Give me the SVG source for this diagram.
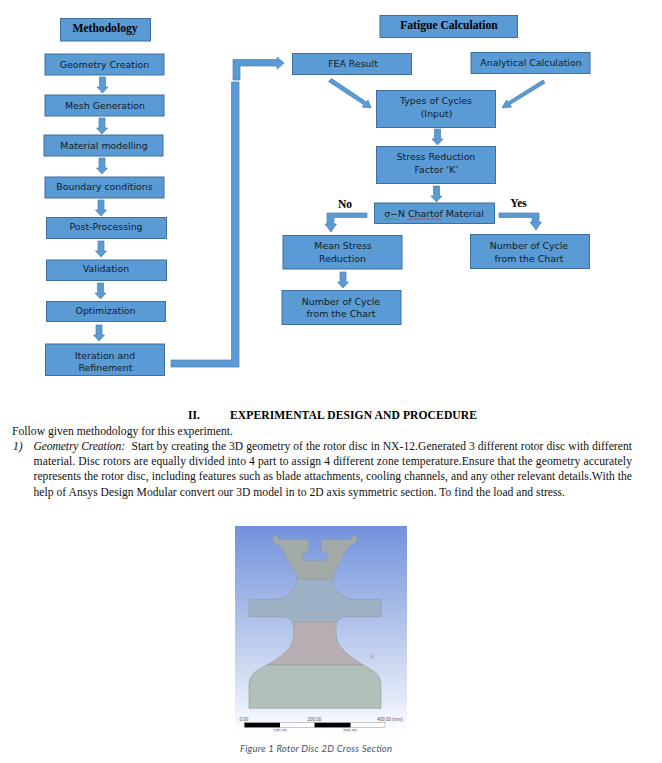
<svg xmlns="http://www.w3.org/2000/svg" width="662" height="763" viewBox="0 0 662 763">
<style>
.b{fill:#5b9bd5;stroke:#3f6f9d;stroke-width:1}
.a{fill:#5b9bd5;stroke:#4a7fb0;stroke-width:.7}
.t{font-family:"DejaVu Sans",sans-serif;font-size:9.4px;fill:#0e1c28;text-anchor:middle}
.h{font-family:"Liberation Serif",serif;font-weight:bold;font-size:11.6px;fill:#000;text-anchor:middle}
.p{font-family:"Liberation Serif",serif;font-size:11.6px;fill:#111}
.i{font-style:italic}
.sc{font-family:"Liberation Sans",sans-serif;font-size:4.5px;fill:#555;text-anchor:middle}
.z{stroke:#8f9aa0;stroke-width:.6}
</style>
<defs>
<path id="d" d="M-3,0H3V10H5.5L0,16L-5.5,10H-3Z"/>
<linearGradient id="bg" x1="0" y1="0" x2="0" y2="1">
<stop offset="0" stop-color="#7392dc"/><stop offset=".55" stop-color="#bccbed"/><stop offset=".85" stop-color="#e4eaf8"/><stop offset="1" stop-color="#ffffff"/>
</linearGradient>
<clipPath id="fc"><rect x="235" y="526" width="172" height="205.500"/></clipPath>
</defs>
<rect width="662" height="763" fill="#fff"/>

<g id="connectors">
<use href="#d" class="a" x="102.500" y="77"/>
<use href="#d" class="a" x="102" y="118"/>
<use href="#d" class="a" x="102" y="158"/>
<use href="#d" class="a" x="101" y="200"/>
<use href="#d" class="a" x="101" y="241"/>
<use href="#d" class="a" x="100.500" y="283"/>
<use href="#d" class="a" x="99" y="325"/>
<use href="#d" class="a" x="437.500" y="129"/>
<use href="#d" class="a" x="436.500" y="186"/>
<use href="#d" class="a" x="343" y="272"/>
<path class="a" d="M171,360H231.500V82H239V367H171Z"/>
<path class="a" d="M233,80V59.500H277V57L284,63L277,69V66H240V80Z"/>
<path class="a" d="M331.500,78.500L366.500,102L368,100L371,108L362,107L363.800,104.800L328.500,81.500Z"/>
<path class="a" d="M545,83L510,104.500L511.500,107L502,108L506.500,100L508,102L543,80Z"/>
<path class="a" d="M367,213V217.500H334V224H336.500L331,232L325,224H327V213Z"/>
<path class="a" d="M499,213V217.500H532V222H530L536,230L541.500,222H539V213Z"/>
</g>

<g id="methodology"><rect class="b" x="60.500" y="18.500" width="90" height="22.500"/><text class="h" x="105" y="31.500">Methodology</text></g>
<g id="geometry"><rect class="b" x="45" y="54" width="119" height="21"/><text class="t" x="104.500" y="68">Geometry Creation</text></g>
<g id="mesh"><rect class="b" x="45" y="95" width="119" height="21"/><text class="t" x="105" y="108.500">Mesh Generation</text></g>
<g id="material"><rect class="b" x="44" y="135" width="119" height="21"/><text class="t" x="104" y="148.500">Material modelling</text></g>
<g id="boundary"><rect class="b" x="45" y="177" width="119" height="21"/><text class="t" x="104.500" y="190">Boundary conditions</text></g>
<g id="post"><rect class="b" x="46.500" y="217.500" width="120" height="21"/><text class="t" x="106" y="230">Post-Processing</text></g>
<g id="validation"><rect class="b" x="46.500" y="260" width="120" height="20.500"/><text class="t" x="106" y="272">Validation</text></g>
<g id="optimization"><rect class="b" x="46.500" y="301.500" width="119" height="20"/><text class="t" x="105.500" y="314">Optimization</text></g>
<g id="iteration"><rect class="b" x="45.500" y="344" width="119" height="31.500"/><text class="t" x="105" y="358.500">Iteration and</text><text class="t" x="105.500" y="370.500">Refinement</text></g>

<g id="fatigue"><rect class="b" x="380" y="15.500" width="137.500" height="22"/><text class="h" x="449" y="28.500">Fatigue Calculation</text></g>
<g id="fea"><rect class="b" x="292.500" y="53.500" width="119" height="21"/><text class="t" x="353" y="67">FEA Result</text></g>
<g id="analytical"><rect class="b" x="471" y="52.500" width="119" height="21"/><text class="t" x="531" y="65.500">Analytical Calculation</text></g>
<g id="types"><rect class="b" x="376.500" y="90.500" width="119" height="37"/><text class="t" x="436" y="104">Types of Cycles</text><text class="t" x="436.500" y="116.500">(Input)</text></g>
<g id="stress"><rect class="b" x="376.500" y="146.500" width="119" height="37"/><text class="t" x="436" y="160">Stress Reduction</text><text class="t" x="436.500" y="172.500">Factor ‘K’</text></g>
<g id="sn"><rect class="b" x="374.500" y="203" width="120" height="20.500"/><text class="t" x="434" y="216.500">σ−N Chartof Material</text>
<path d="M385,219q1,1.500 2,0t2,0t2,0t2,0t2,0t2,0t2,0" fill="none" stroke="#3f9a45" stroke-width=".7"/>
<path d="M407,219q1,1.500 2,0t2,0t2,0t2,0t2,0t2,0t2,0t2,0t2,0t2,0t2,0t2,0t2,0t2,0t2,0t2,0t2,0" fill="none" stroke="#d0363a" stroke-width=".7"/></g>
<g id="mean"><rect class="b" x="283" y="235.500" width="119" height="33.500"/><text class="t" x="343" y="249">Mean Stress</text><text class="t" x="342.500" y="261.500">Reduction</text></g>
<g id="cycle-left"><rect class="b" x="282" y="290.500" width="119" height="34"/><text class="t" x="341" y="304.500">Number of Cycle</text><text class="t" x="341" y="316.500">from the Chart</text></g>
<g id="cycle-right"><rect class="b" x="470.500" y="234.500" width="119" height="34"/><text class="t" x="529" y="249">Number of Cycle</text><text class="t" x="529" y="261.500">from the Chart</text></g>
<text id="no" class="h" x="345" y="207.500">No</text>
<text id="yes" class="h" x="518.500" y="207">Yes</text>

<g id="body">
<text class="h" x="188" y="419" style="text-anchor:start">II.</text>
<text class="h" x="230" y="419" style="text-anchor:start" textLength="247">EXPERIMENTAL DESIGN AND PROCEDURE</text>
<text class="p" x="12" y="435" textLength="221">Follow given methodology for this experiment.</text>
<text class="p i" x="13" y="449.500">1)</text>
<text class="p i" x="33.500" y="449.500" textLength="91.500">Geometry Creation:</text>
<text class="p" x="131.500" y="449.500" textLength="500.500">Start by creating the 3D geometry of the rotor disc in NX-12.Generated 3 different rotor disc with different</text>
<text class="p" x="33.500" y="465" textLength="598.500">material. Disc rotors are equally divided into 4 part to assign 4 different zone temperature.Ensure that the geometry accurately</text>
<text class="p" x="33.500" y="480" textLength="598.500">represents the rotor disc, including features such as blade attachments, cooling channels, and any other relevant details.With the</text>
<text class="p" x="33.500" y="495.500" textLength="531.500">help of Ansys Design Modular convert our 3D model in to 2D axis symmetric section. To find the load and stress.</text>
</g>

<g id="figure" clip-path="url(#fc)">
<rect x="235" y="526" width="172" height="206" fill="url(#bg)"/>
<path class="z" fill="#a3aba8" d="M273.300,536H277.300L278.300,539.300H306.700Q308.300,539.500 308.300,541.700V551.700H305Q302.700,552.500 302.700,555V558Q302.700,560.700 304.300,560.700H325Q327.300,560.700 327.300,558.300V553.300Q327.300,551.500 325,551.500H321.300V541.700Q321.300,540 323.300,539.700L351,539.300L352.700,536H356.700V541.700L353.300,544Q348,545 346,550L335,571Q333,575 332.300,579.300H297.300Q296,574 294,571L283.300,550Q281,545 276.700,544L273.300,541.700Z"/>
<path class="z" fill="#9db1c5" d="M297.300,579.300H332.300Q334,595 351.700,599.300H381V616.700H347.700Q340,617 336.700,622H292.700Q289,617 281.700,616.700H249V599.300H278.300Q295,596 297.300,579.300Z"/>
<path class="z" fill="#b7aeb3" d="M292.700,622H336.700Q334.500,630 337,640Q339,650 363.300,665H266.700Q291,652 293,640Q295,630 292.700,622Z"/>
<path class="z" fill="#b1c0b9" d="M266.700,665H363.300L375,672Q381,677 381,684V708.300H249V684Q249,677 255,672Z"/>
<path d="M370,653.500V657.500L371,656.500L372,658.500L373,658L372,656H374Z" fill="#dfe4ec" stroke="#7a8088" stroke-width=".4"/>
<rect x="244.500" y="722.800" width="140.500" height="4.500" fill="#fff" stroke="#777" stroke-width=".4"/>
<rect x="244.500" y="722.800" width="35.500" height="4.500" fill="#000"/>
<rect x="314.500" y="722.800" width="36" height="4.500" fill="#000"/>
<text class="sc" x="244" y="721">0.00</text>
<text class="sc" x="314.500" y="721">200.00</text>
<text class="sc" x="390" y="721">400.00 (mm)</text>
<text class="sc" x="280" y="733">100.00</text>
<text class="sc" x="350" y="733">300.00</text>
</g>
<text id="caption" x="240" y="752" textLength="152" style="font-family:Lato,sans-serif;font-style:italic;font-size:9.500px;fill:#44546a">Figure 1 Rotor Disc 2D Cross Section</text>
</svg>
